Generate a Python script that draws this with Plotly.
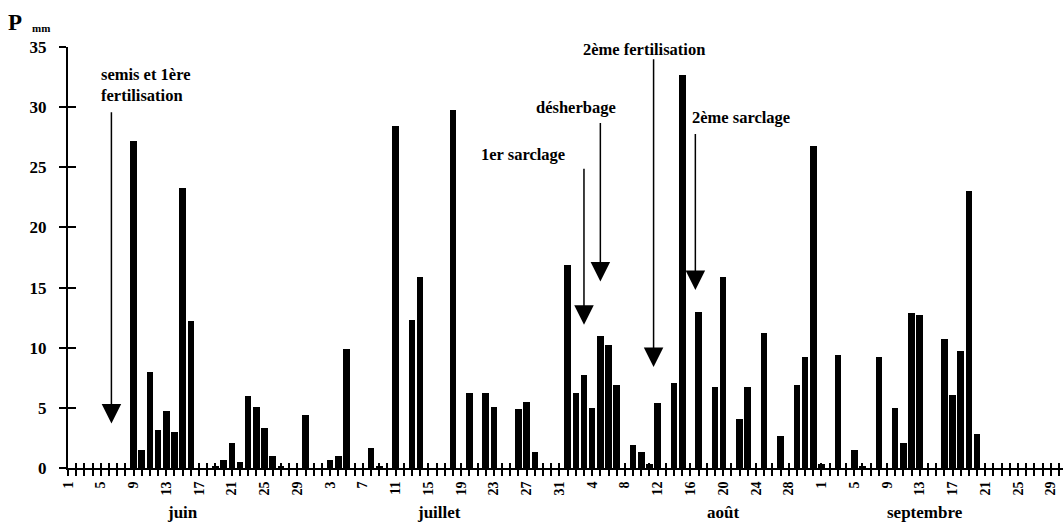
import pandas as pd
import plotly.graph_objects as go

# ---------------- data ----------------
season_start = "06-01"
season_days = 122  # 1 June .. 30 September

rain_dates = [
    "06-09", "06-10", "06-11", "06-12", "06-13", "06-14", "06-15", "06-16",
    "06-19", "06-20", "06-21", "06-22", "06-23", "06-24", "06-25", "06-26",
    "06-27", "06-30",
    "07-03", "07-04", "07-05", "07-08", "07-09", "07-11", "07-13", "07-14",
    "07-18", "07-20", "07-22", "07-23", "07-26", "07-27", "07-28",
    "08-01", "08-02", "08-03", "08-04", "08-05", "08-06", "08-07", "08-09",
    "08-10", "08-11", "08-12", "08-14", "08-15", "08-17", "08-19", "08-20",
    "08-22", "08-23", "08-25", "08-27", "08-29", "08-30", "08-31",
    "09-01", "09-03", "09-05", "09-06", "09-08", "09-10", "09-11", "09-12",
    "09-13", "09-16", "09-17", "09-18", "09-19", "09-20",
]
rain_mm = [
    27.2, 1.5, 8.0, 3.2, 4.7, 3.0, 23.3, 12.2,
    0.2, 0.7, 2.1, 0.5, 6.0, 5.1, 3.3, 1.0,
    0.2, 4.4,
    0.7, 1.0, 9.9, 1.7, 0.2, 28.4, 12.3, 15.9,
    29.8, 6.2, 6.2, 5.1, 4.9, 5.5, 1.3,
    16.9, 6.2, 7.7, 5.0, 11.0, 10.2, 6.9, 1.9,
    1.3, 0.3, 5.4, 7.1, 32.7, 13.0, 6.7, 15.9,
    4.1, 6.7, 11.2, 2.7, 6.9, 9.2, 26.8,
    0.3, 9.4, 1.5, 0.2, 9.2, 5.0, 2.1, 12.9,
    12.7, 10.7, 6.1, 9.7, 23.0, 2.8,
]

tick_labels = ["1", "5", "9", "13", "17", "21", "25", "29",
               "3", "7", "11", "15", "19", "23", "27", "31",
               "4", "8", "12", "16", "20", "24", "28",
               "1", "5", "9", "13", "17", "21", "25", "29"]
tick_step = 4

month_labels = ["juin", "juillet", "août", "septembre"]
month_label_pos = [14.0, 45.3, 80.0, 104.6]

# agricultural operations: label, arrow day position, arrow tip (mm), arrow tail (mm)
op_labels = ["semis et 1ère<br>fertilisation", "1er sarclage", "désherbage",
             "2ème fertilisation", "2ème sarclage"]
op_day = [5.3, 63.0, 65.0, 71.5, 76.6]
op_tip = [3.7, 11.9, 15.5, 8.4, 14.8]
op_tail = [29.7, 25.0, 28.8, 34.1, 27.9]
op_text_x = [3.8, 55.5, 62.0, 70.3, 82.2]
op_text_y = [31.8, 26.1, 30.0, 34.8, 29.1]
op_text_anchor = ["left", "center", "center", "center", "center"]

# ---------------- build ----------------
base = pd.Timestamp("2000-" + season_start)
day_index = [(pd.Timestamp("2000-" + d) - base).days for d in rain_dates]

all_days = list(range(season_days))
tick_text = []
for d in all_days:
    if d % tick_step == 0 and d // tick_step < len(tick_labels):
        tick_text.append(tick_labels[d // tick_step])
    else:
        tick_text.append("")

FONT = "Liberation Serif"
x_range = [0, 995 / 8.19]
y_range = [0, 35]

fig = go.Figure()
fig.add_trace(go.Bar(
    x=day_index, y=rain_mm, width=0.8,
    marker=dict(color="black", line=dict(width=0)),
    showlegend=False, hoverinfo="x+y",
))
# helper trace for the overlaid axes (inner half of crossing ticks)
fig.add_trace(go.Scatter(x=[None], y=[None], xaxis="x2", yaxis="y2",
                         showlegend=False, hoverinfo="skip"))

fig.update_layout(
    width=1063, height=522,
    margin=dict(l=68, r=0, t=47, b=54),
    paper_bgcolor="white", plot_bgcolor="white",
    font=dict(family=FONT, color="black"),
    bargap=0,
    xaxis=dict(
        range=x_range, showgrid=False, zeroline=False,
        showline=True, linecolor="black", linewidth=2,
        tickmode="array", tickvals=all_days, ticktext=tick_text,
        ticks="outside", ticklen=6, tickwidth=1.5, tickcolor="black",
        tickangle=-90,
        tickfont=dict(family=FONT, size=14, color="black", weight="bold"),
    ),
    yaxis=dict(
        range=y_range, showgrid=False, zeroline=False,
        showline=True, linecolor="black", linewidth=2,
        tickmode="array", tickvals=[0, 5, 10, 15, 20, 25, 30, 35],
        ticks="outside", ticklen=7, tickwidth=2, tickcolor="black",
        ticklabelstandoff=9,
        tickfont=dict(family=FONT, size=17, color="black", weight="bold"),
    ),
    xaxis2=dict(
        range=x_range, overlaying="x", anchor="y2", side="bottom",
        showgrid=False, zeroline=False, showline=False,
        tickmode="array", tickvals=all_days, showticklabels=False,
        ticks="inside", ticklen=5, tickwidth=1.5, tickcolor="black",
    ),
    yaxis2=dict(
        range=y_range, overlaying="y", anchor="x2", side="left",
        showgrid=False, zeroline=False, showline=False,
        tickmode="array", tickvals=[0, 5, 10, 15, 20, 25, 30, 35],
        showticklabels=False,
        ticks="inside", ticklen=8, tickwidth=2, tickcolor="black",
    ),
)

annotations = []
# y-axis unit label
annotations.append(dict(text="P", xref="paper", yref="paper",
                        x=-0.0625, y=1.058, xanchor="left", yanchor="middle",
                        showarrow=False,
                        font=dict(family=FONT, size=23, color="black", weight="bold")))
annotations.append(dict(text="mm", xref="paper", yref="paper",
                        x=-0.038, y=1.045, xanchor="left", yanchor="middle",
                        showarrow=False,
                        font=dict(family=FONT, size=11, color="black", weight="bold")))
# month labels
for lab, pos in zip(month_labels, month_label_pos):
    annotations.append(dict(text=lab, xref="x", yref="paper", x=pos, y=-0.105,
                            xanchor="center", yanchor="middle", showarrow=False,
                            font=dict(family=FONT, size=17, color="black", weight="bold")))
# operation arrows
for d, tip, tail in zip(op_day, op_tip, op_tail):
    annotations.append(dict(text="", x=d, y=tip, xref="x", yref="y",
                            ax=d, ay=tail, axref="x", ayref="y",
                            showarrow=True, arrowhead=2, arrowsize=2.6,
                            arrowwidth=1.5, arrowcolor="black"))
# operation labels
for lab, tx, ty, anc in zip(op_labels, op_text_x, op_text_y, op_text_anchor):
    annotations.append(dict(text=lab, x=tx, y=ty, xref="x", yref="y",
                            xanchor=anc, yanchor="middle", align="left",
                            showarrow=False,
                            font=dict(family=FONT, size=16.5, color="black", weight="bold")))

fig.update_layout(annotations=annotations)
fig.write_html("out.html", config={"displayModeBar": False},
               post_script="document.body.style.margin='0';document.body.style.overflow='hidden';")
